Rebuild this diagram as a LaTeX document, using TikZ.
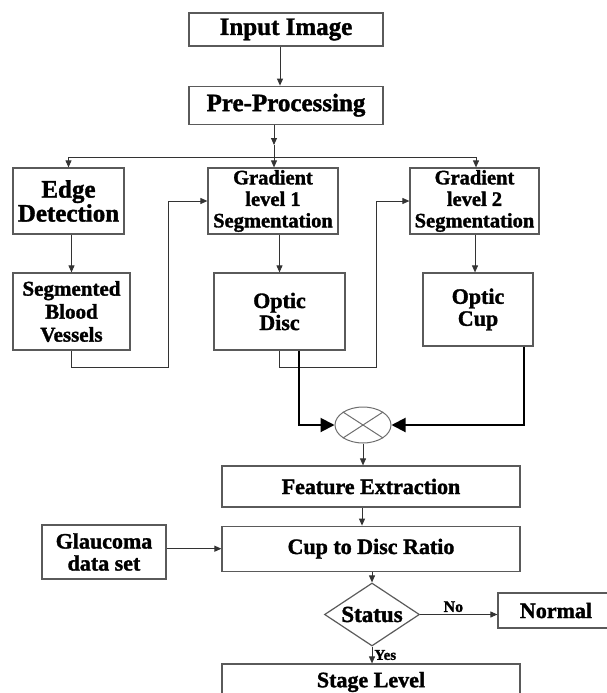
\documentclass[tikz,border=0pt]{standalone}
\usepackage{fontspec}
\setmainfont{Liberation Serif}[BoldFeatures={FakeBold=1.5}]
\usetikzlibrary{arrows.meta,positioning,shapes.geometric}
\definecolor{BoxLine}{HTML}{5A5A5A}
\definecolor{Wire}{HTML}{333333}
\definecolor{MixLine}{HTML}{6E6E6E}

\begin{document}
\begin{tikzpicture}[
  x=1pt,y=1pt,
  node distance=18pt,
  stagebox/.style={draw=BoxLine,line width=1.2pt,inner sep=0pt,align=center,font=\bfseries\fontsize{22}{22}\selectfont},
  bigbox/.style={stagebox,font=\bfseries\fontsize{25}{24}\selectfont},
  gradbox/.style={stagebox,font=\bfseries\fontsize{20.5}{21.5}\selectfont},
  mixer/.style={ellipse,draw=MixLine,line width=1pt,inner sep=0pt,minimum width=56pt,minimum height=36pt},
  decide/.style={diamond,draw=BoxLine,line width=1.2pt,inner sep=0pt,aspect=1.5,minimum width=95pt,minimum height=63pt,font=\bfseries\fontsize{23}{23}\selectfont},
  arr/.style={-{Triangle[length=7pt,width=6pt]},draw=Wire,line width=0.9pt},
  fat/.style={-{Triangle[length=14pt,width=14pt]},draw=black,line width=2pt},
  tag/.style={inner sep=2pt,font=\bfseries\fontsize{16}{16}\selectfont}
]
\useasboundingbox (0,0) rectangle (606,-693);
\node[bigbox,minimum width=194pt,minimum height=33pt] (in) at (286,-29.5) {Input Image};
\node[bigbox,minimum width=194pt,minimum height=38pt,below=39pt of in] (pre) {Pre-Processing};
\node[bigbox,minimum width=111pt,minimum height=66pt] (edge) at (68.5,-201) {Edge\\Detection};
\node[gradbox,minimum width=130pt,minimum height=66pt] (g1) at (273,-201) {Gradient\\level 1\\Segmentation};
\node[gradbox,minimum width=129pt,minimum height=66pt] (g2) at (474.5,-201) {Gradient\\level 2\\Segmentation};
\node[stagebox,font=\bfseries\fontsize{21}{23}\selectfont,minimum width=117pt,minimum height=77pt] (seg) at (71.5,-311.5) {Segmented\\Blood\\Vessels};
\node[stagebox,minimum width=131pt,minimum height=77pt] (disc) at (279.5,-311.5) {Optic\\Disc};
\node[stagebox,minimum width=110pt,minimum height=73pt] (cup) at (478,-309.5) {Optic\\Cup};
\node[mixer] (mix) at (363,-425) {};
\node[stagebox,minimum width=298pt,minimum height=41pt] (fe) at (371,-486.5) {Feature Extraction};
\node[stagebox,minimum width=298pt,minimum height=45pt,below=of fe] (cdr) {Cup to Disc Ratio};
\node[stagebox,minimum width=124pt,minimum height=54pt] (glau) at (104,-552) {Glaucoma\\data set};
\node[decide] (status) at (372,-614.5) {Status};
\node[stagebox,minimum width=116pt,minimum height=35pt] (normal) at (556,-610.5) {Normal};
\node[stagebox,minimum width=298pt,minimum height=36pt] (stage) at (371,-682) {Stage Level};
\coordinate (mid) at (274,-145);
\coordinate (split) at (273,-157);
% top part
\draw[arr] ([xshift=-6pt]in.south) -- ([xshift=-6pt]pre.north);
\draw[arr] (pre.south -| mid) -- (mid);
\draw[arr] (mid) -- (mid |- g1.north);
\draw[Wire,line width=0.9pt] (edge.north |- split) -- ([xshift=1.5pt]g2.north |- split);
\draw[arr] (edge.north |- split) -- (edge.north);
\draw[arr] ([xshift=1.5pt]g2.north |- split) -- ([xshift=1.5pt]g2.north);
\draw[arr] (seg.north |- edge.south) -- (seg.north);
\draw[arr] (disc.north |- g1.south) -- (disc.north);
\draw[arr] ([xshift=-3pt]cup.north |- g2.south) -- ([xshift=-3pt]cup.north);
\draw[arr] (seg.south) -- ++(0,-17) -| ([xshift=-39pt]g1.west) -- (g1.west);
\draw[arr] (disc.south) -- ++(0,-17) -| ([xshift=-33pt]g2.west) -- (g2.west);
% into the mixer
\draw[fat] ([xshift=19.5pt]disc.south) |- (mix.west);
\draw[fat] ([xshift=46pt]cup.south) |- (mix.east);
\draw[MixLine,line width=1pt] (mix.north east) -- (mix.south west) (mix.north west) -- (mix.south east);
% bottom part
\draw[arr] (mix.south) -- (mix.south |- fe.north);
\draw[arr] ([xshift=-9pt]fe.south) -- ([xshift=-9pt]cdr.north);
\draw[arr] (glau.east |- cdr.west) -- (cdr.west);
\draw[arr] (status.north |- cdr.south) -- (status.north);
\draw[arr] (status.east) -- node[tag,above,pos=0.43] {No} (status.east -| normal.west);
\draw[arr] (status.south) -- node[tag,right,font=\bfseries\fontsize{15}{15}\selectfont] {Yes} (status.south |- stage.north);
\end{tikzpicture}
\end{document}
